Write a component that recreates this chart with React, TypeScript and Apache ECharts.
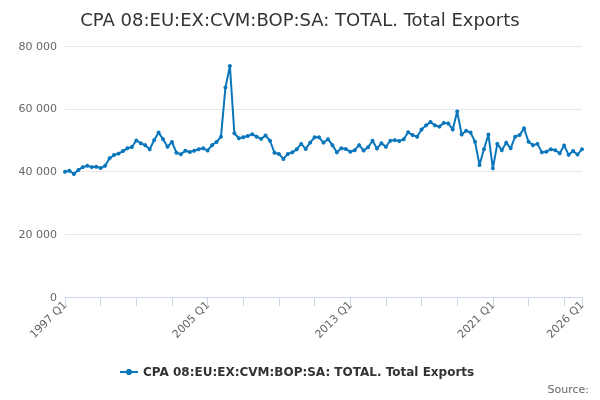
import React, { useEffect, useRef } from "react";
import * as echarts from "echarts";

const TITLE = "CPA 08:EU:EX:CVM:BOP:SA: TOTAL. Total Exports";
const SERIES_NAME = "CPA 08:EU:EX:CVM:BOP:SA: TOTAL. Total Exports";
const FIRST_YEAR = 1997;
const LAST_YEAR = 2026;
const QUARTERS = ["Q1", "Q2", "Q3", "Q4"];

// Quarterly values, 1997 Q1 .. 2026 Q1
const exportsValues = [
  39900, 40250, 39200, 40500, // 1997
  41400, 41800, 41400, 41500, // 1998
  41100, 41800, 44200, 45250, // 1999
  45700, 46500, 47400, 47800, // 2000
  49900, 49000, 48400, 47100, // 2001
  50000, 52400, 50300, 47900, // 2002
  49400, 46000, 45500, 46600, // 2003
  46200, 46600, 47100, 47400, // 2004
  46700, 48400, 49400, 51100, // 2005
  66800, 73600, 52200, 50600, // 2006
  50900, 51300, 51900, 51100, // 2007
  50400, 51500, 49800, 46000, // 2008
  45600, 44000, 45600, 46100, // 2009
  47100, 48800, 47200, 49200, // 2010
  50900, 50900, 49200, 50300, // 2011
  48400, 46100, 47400, 47200, // 2012
  46300, 46800, 48400, 46700, // 2013
  47700, 49800, 47300, 49000, // 2014
  47900, 49800, 50000, 49700, // 2015
  50300, 52500, 51600, 51100, // 2016
  53400, 54700, 55800, 54700, // 2017
  54300, 55500, 55300, 53400, // 2018
  59100, 51800, 53000, 52400, // 2019
  49500, 42100, 47100, 51800, // 2020
  41000, 48800, 46800, 49200, // 2021
  47400, 51100, 51600, 53800, // 2022
  49500, 48400, 48800, 46100, // 2023
  46300, 47100, 46800, 45800, // 2024
  48300, 45300, 46500, 45400, // 2025
  47100, // 2026
];

const Y_MIN = 0;
const Y_MAX = 80000;
const Y_INTERVAL = 20000;

const categories: string[] = [];
for (let y = FIRST_YEAR; y <= LAST_YEAR; y++) {
  for (const q of QUARTERS) {
    if (categories.length < exportsValues.length) categories.push(`${y} ${q}`);
  }
}

const FONT = "DejaVu Sans";
const COLOR = "#0a76bb";

export default function App() {
  const ref = useRef<HTMLDivElement>(null);
  useEffect(() => {
    if (!ref.current) return;
    const chart = echarts.init(ref.current, undefined, { renderer: "svg" });
    const last = categories.length - 1;
    chart.setOption({
      animation: false,
      textStyle: { fontFamily: FONT },
      title: {
        text: TITLE,
        left: "center",
        top: 5,
        textStyle: { fontFamily: FONT, fontSize: 18, fontWeight: "normal", color: "#333333" },
      },
      grid: { left: 65, right: 18, top: 46, bottom: 103, containLabel: false },
      legend: {
        bottom: 17,
        left: 114,
        itemWidth: 18,
        itemHeight: 8,
        itemGap: 4,
        textStyle: { fontFamily: FONT, fontSize: 12, fontWeight: "bold", color: "#333333" },
        data: [SERIES_NAME],
      },
      graphic: [
        {
          type: "text",
          right: 11,
          top: 384,
          style: { text: "Source:", fontFamily: FONT, fontSize: 11, fill: "#666666" },
        },
      ],
      xAxis: {
        type: "category",
        data: categories,
        boundaryGap: false,
        axisLine: { show: true, lineStyle: { color: "#ccd6eb", width: 1 } },
        axisTick: {
          show: true,
          length: 9,
          interval: (i: number) => i % 8 === 0 || i === last,
          lineStyle: { color: "#ccd6eb" },
        },
        axisLabel: {
          interval: (i: number) => i % 32 === 0 || i === last,
          rotate: 45,
          fontSize: 11,
          color: "#666666",
          fontFamily: FONT,
          margin: 6,
        },
        splitLine: { show: false },
      },
      yAxis: {
        type: "value",
        min: Y_MIN,
        max: Y_MAX,
        interval: Y_INTERVAL,
        axisLine: { show: false },
        axisTick: { show: false },
        axisLabel: {
          fontSize: 11,
          color: "#666666",
          fontFamily: FONT,
          margin: 8,
          formatter: (v: number) => String(v).replace(/\B(?=(\d{3})+(?!\d))/g, " "),
        },
        splitLine: { lineStyle: { color: "#e6e6e6", width: 1 } },
      },
      series: [
        {
          name: SERIES_NAME,
          type: "line",
          data: exportsValues,
          color: COLOR,
          lineStyle: { width: 2, color: COLOR },
          symbol: "circle",
          symbolSize: 4,
          showSymbol: true,
          showAllSymbol: true,
          itemStyle: { color: COLOR },
        },
      ],
    });
    return () => chart.dispose();
  }, []);
  return (
    <div
      ref={ref}
      style={{ position: "fixed", left: 0, top: 0, width: 600, height: 400 }}
    />
  );
}
